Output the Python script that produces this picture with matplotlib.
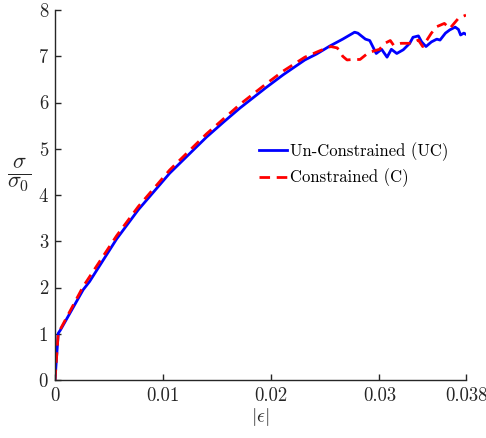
import matplotlib
matplotlib.use("Agg")
import matplotlib.pyplot as plt
import numpy as np

plt.rcParams['font.family'] = 'serif'
plt.rcParams['font.serif'] = ['cmr10']
plt.rcParams['mathtext.fontset'] = 'cm'
plt.rcParams['axes.unicode_minus'] = False

# Un-Constrained (UC)
uc_strain = [0, 0.0003, 0.0005, 0.0026, 0.0032, 0.0057, 0.0077, 0.0106, 0.0140,
             0.0156, 0.0171, 0.0195, 0.0211, 0.0231, 0.0242, 0.0254, 0.0266,
             0.0277, 0.0280, 0.0287, 0.0291, 0.0297, 0.0302, 0.0307, 0.0311,
             0.0316, 0.0322, 0.0328, 0.0331, 0.0336, 0.0339, 0.0343, 0.0348,
             0.0353, 0.0356, 0.0361, 0.0365, 0.0370, 0.0373, 0.0375, 0.0378, 0.0381]
uc_stress = [0, 1.01, 1.08, 1.95, 2.13, 3.05, 3.68, 4.47, 5.25,
             5.58, 5.88, 6.32, 6.60, 6.92, 7.05, 7.22, 7.37,
             7.52, 7.50, 7.37, 7.34, 7.06, 7.15, 6.98, 7.15,
             7.06, 7.14, 7.28, 7.41, 7.44, 7.31, 7.21, 7.31,
             7.37, 7.35, 7.50, 7.57, 7.63, 7.58, 7.46, 7.50, 7.46]

# Constrained (C)
c_strain = [0, 0.0003, 0.0005, 0.0026, 0.0057, 0.0077, 0.0106, 0.0140, 0.0171,
            0.0195, 0.0211, 0.0231, 0.0245, 0.0255, 0.0261, 0.0266, 0.0270,
            0.0275, 0.0282, 0.0290, 0.0300, 0.0305, 0.0310, 0.0313, 0.0320,
            0.0330, 0.0336, 0.0340, 0.0348, 0.0353, 0.0360, 0.0365, 0.0373, 0.0380]
c_stress = [0, 1.02, 1.10, 2.02, 3.12, 3.75, 4.54, 5.32, 5.96,
            6.40, 6.68, 6.98, 7.12, 7.21, 7.18, 7.00, 6.92,
            6.93, 6.93, 7.08, 7.15, 7.28, 7.34, 7.24, 7.28,
            7.28, 7.35, 7.21, 7.50, 7.64, 7.71, 7.60, 7.82, 7.89]

x_ticks = [0, 0.01, 0.02, 0.03, 0.038]
x_ticklabels = ['0', '0.01', '0.02', '0.03', '0.038']
y_ticks = [0, 1, 2, 3, 4, 5, 6, 7, 8]

fig = plt.figure(figsize=(4.86, 4.38), dpi=100)
ax = fig.add_axes([55/486, 1-380/438, 411/486, 370/438])

ax.plot(uc_strain, uc_stress, color='#0000ff', lw=2.0, label='Un-Constrained (UC)')
ax.plot(c_strain, c_stress, color='#ff0000', lw=2.0, dashes=(3.8, 2.4), label='Constrained (C)')

ax.set_xlim(0, 0.038)
ax.set_ylim(0, 8)
ax.set_xticks(x_ticks)
ax.set_xticklabels(x_ticklabels)
ax.set_yticks(y_ticks)
ax.set_yticklabels([str(v) for v in y_ticks])
ax.tick_params(direction='in', length=4, width=1, colors='#262626', labelsize=13.5,
               labelcolor='#262626', pad=5)
for s in ['top', 'right']:
    ax.spines[s].set_visible(False)
for s in ['left', 'bottom']:
    ax.spines[s].set_color('#262626')
    ax.spines[s].set_linewidth(1.0)

ax.set_xlabel(r'$|\epsilon|$', fontsize=14, color='#262626', labelpad=1)
ax.text(-0.088, 0.554, r'$\frac{\sigma}{\sigma_0}$', transform=ax.transAxes,
        fontsize=23, ha='center', va='center', color='#262626')

leg = ax.legend(loc='upper left', bbox_to_anchor=(0.48, 0.66), frameon=False,
                fontsize=12, handlelength=1.7, handletextpad=0.15, labelspacing=0.45,
                borderaxespad=0)

fig.savefig('out.png', dpi=100)
